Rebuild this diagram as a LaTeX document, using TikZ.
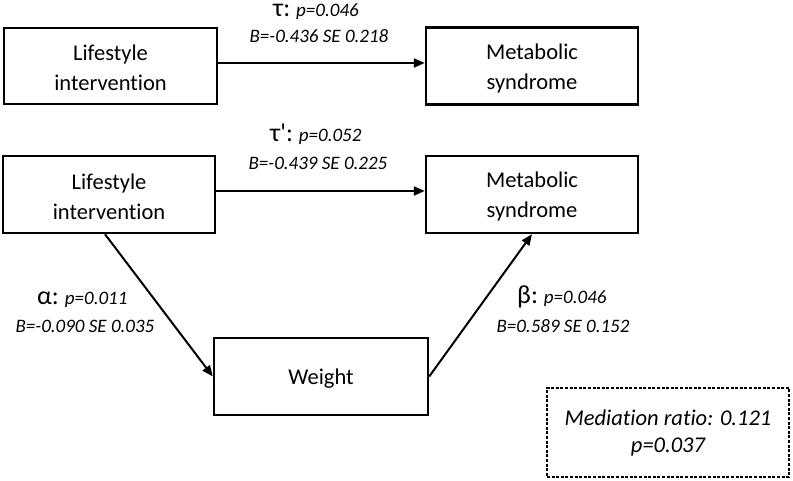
\documentclass[tikz,border=0pt]{standalone}
\usepackage{fontspec}
\setmainfont{Carlito}[Ligatures={NoCommon}]
\usetikzlibrary{arrows.meta}
\tikzset{
  box/.style={draw=black, line width=2.4pt, minimum width=#1, minimum height=77pt, inner sep=0pt},
  box/.default=212pt,
  boxtext/.style={align=center, font=\fontsize{22.5}{30}\selectfont, inner sep=0pt},
  arr/.style={draw=black, line width=2pt, -{Triangle[length=11pt,width=9pt]}},
  greek/.style={anchor=base west, inner sep=0pt},
  coef/.style={anchor=base, inner sep=0pt, font=\fontsize{19}{22}\selectfont\itshape},
  medbox/.style={draw=black, line width=1.1pt, dash pattern=on 3pt off 1.6pt, minimum width=242pt, minimum height=89pt, align=center, inner sep=0pt, font=\fontsize{22.5}{27}\selectfont\itshape}
}
\newcommand{\gl}[2]{{\fontsize{26}{28}\selectfont #1:}\hspace{6pt}{\fontsize{19}{22}\selectfont\itshape #2}}
\begin{document}
\begin{tikzpicture}[x=1pt,y=-1pt]
\useasboundingbox (0,0) rectangle (793,481);
% top row
\node[box=213pt, minimum height=76pt] (li1) at (110.5,66) {};
\node[box] (ms1) at (532,66) {};
\node[boxtext, yshift=-4pt] (li1t) at (li1.center) {Lifestyle\\intervention\vphantom{y}};
\node[boxtext, yshift=-2.5pt] (ms1t) at (ms1.center) {Metabolic\\syndrome};
\draw[arr] ([yshift=3pt]li1.east) -- ([yshift=3pt]ms1.west);
\node[greek] (tau) at (273,17) {\gl{τ}{p=0.046}};
\node[coef] (taub) at (319,43) {B=-0.436 SE 0.218};
% second row
\node[box] (li2) at (109,194.5) {};
\node[box] (ms2) at (532,194.5) {};
\node[boxtext, yshift=-4pt] (li2t) at (li2.center) {Lifestyle\\intervention\vphantom{y}};
\node[boxtext, yshift=-2.5pt] (ms2t) at (ms2.center) {Metabolic\\syndrome};
\draw[arr] ([yshift=3.5pt]li2.east) -- ([yshift=3.5pt]ms2.west);
\node[greek] (taup) at (270,142) {\gl{τ\textquotesingle}{p=0.052}};
\node[coef] (taupb) at (318,170) {B=-0.439 SE 0.225};
% weight
\node[box=214pt] (wt) at (321,376.5) {};
\node[boxtext, yshift=-2pt] (wtt) at (wt.center) {Weight};
\draw[arr] ([xshift=-4pt]li2.south) -- (wt.west);
\draw[arr] (wt.east) -- (ms2.south);
\node[greek] (alp) at (37,305) {\gl{α}{p=0.011}};
\node[coef] (alpb) at (85,333) {B=-0.090 SE 0.035};
\node[greek] (bet) at (517,304) {\gl{β}{p=0.046}};
\node[coef] (betb) at (563,333) {B=0.589 SE 0.152};
% mediation
\node[medbox] (med) at (668,432.5) {Mediation ratio: 0.121\\p=0.037};
\end{tikzpicture}
\end{document}
